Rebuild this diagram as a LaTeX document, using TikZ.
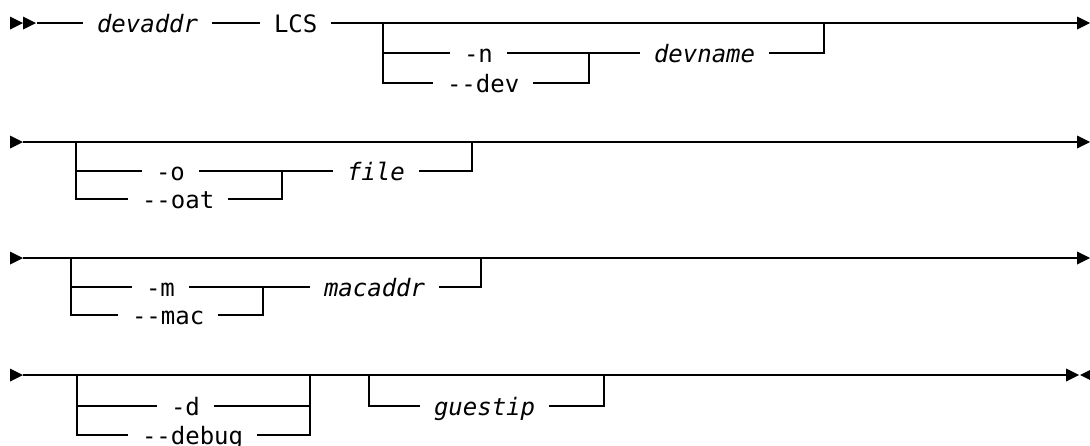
\documentclass[tikz,border=0pt]{standalone}
\usepackage{fontspec}
\setmonofont{DejaVu Sans Mono}
\usetikzlibrary{positioning}

\begin{document}
\begin{tikzpicture}[
      x=0.75pt, y=-0.75pt,
      line width=1pt,
      kw/.style={
          font=\ttfamily\fontsize{18}{18}\selectfont,
          anchor=west,
          inner xsep=10pt, inner ysep=0pt,
          text height=16pt,   % keeps the rail through the middle of the text
          text depth=1.8pt
        },
      var/.style={kw, font=\ttfamily\itshape\fontsize{18}{18}\selectfont},
      tip/.pic={\fill (0,-6.5) -- (13,0) -- (0,6.5) -- cycle;},
    ]
    \useasboundingbox (0,0) rectangle (1090,446);

    % row 1: devaddr LCS [-n|--dev devname]
    \pic at (10,23) {tip};
    \pic at (23,23) {tip};
    \coordinate (r1s) at (37,23);
    \coordinate (r1e) at (1077,23);
    \node[var] (devaddr) at (83,23) {devaddr};
    \node[kw] (lcs) at (260,23) {LCS};
    \draw (r1s) -- (devaddr.west);
    \draw (devaddr.east) -- (lcs.west);
    \draw (lcs.east) -- (r1e);
    \pic at (r1e) {tip};

    \coordinate (b1) at (383,23);
    \coordinate (j1) at (589,53);
    \coordinate (e1) at (824,23);
    \node[kw] (optn) at (450,53) {-n};
    \node[kw] (optdev) at (433,83) {-{}-dev};
    \node[var] (devname) at (640,53) {devname};
    \draw (b1) |- (optn.west);
    \draw (b1) |- (optdev.west);
    \draw (optn.east) -- (devname.west);
    \draw (optdev.east) -| (j1);
    \draw (devname.east) -| (e1);

    % row 2: [-o|--oat file]
    \pic at (10,142) {tip};
    \coordinate (r2s) at (23,142);
    \coordinate (r2e) at (1077,142);
    \draw (r2s) -- (r2e);
    \pic at (r2e) {tip};

    \coordinate (b2) at (76,142);
    \coordinate (j2) at (282,171);
    \coordinate (e2) at (472,142);
    \node[kw] (opto) at (142,171) {-o};
    \node[kw] (optoat) at (128,199) {-{}-oat};
    \node[var] (file) at (333,171) {file};
    \draw (b2) |- (opto.west);
    \draw (b2) |- (optoat.west);
    \draw (opto.east) -- (file.west);
    \draw (optoat.east) -| (j2);
    \draw (file.east) -| (e2);

    % row 3: [-m|--mac macaddr]
    \pic at (10,258) {tip};
    \coordinate (r3s) at (23,258);
    \coordinate (r3e) at (1077,258);
    \draw (r3s) -- (r3e);
    \pic at (r3e) {tip};

    \coordinate (b3) at (71,258);
    \coordinate (j3) at (263,287);
    \coordinate (e3) at (481,258);
    \node[kw] (optm) at (132,287) {-m};
    \node[kw] (optmac) at (118,315) {-{}-mac};
    \node[var] (macaddr) at (310,287) {macaddr};
    \draw (b3) |- (optm.west);
    \draw (b3) |- (optmac.west);
    \draw (optm.east) -- (macaddr.west);
    \draw (optmac.east) -| (j3);
    \draw (macaddr.east) -| (e3);

    % row 4: [-d|--debug] [guestip]
    \pic at (10,375) {tip};
    \coordinate (r4s) at (23,375);
    \coordinate (r4e) at (1066,375);
    \draw (r4s) -- (r4e);
    \pic at (r4e) {tip};
    \pic[xscale=-1] at (1093,375) {tip};

    \coordinate (b4) at (77,375);
    \coordinate (e4) at (310,375);
    \node[kw] (optd) at (157,406) {-d};
    \node[kw] (optdebug) at (128,435) {-{}-debug};
    \draw (b4) |- (optd.west);
    \draw (b4) |- (optdebug.west);
    \draw (optd.east) -| (e4);
    \draw (optdebug.east) -| (e4);

    \coordinate (b5) at (369,375);
    \coordinate (e5) at (604,375);
    \node[var] (guestip) at (420,406) {guestip};
    \draw (b5) |- (guestip.west);
    \draw (guestip.east) -| (e5);
  \end{tikzpicture}
\end{document}
